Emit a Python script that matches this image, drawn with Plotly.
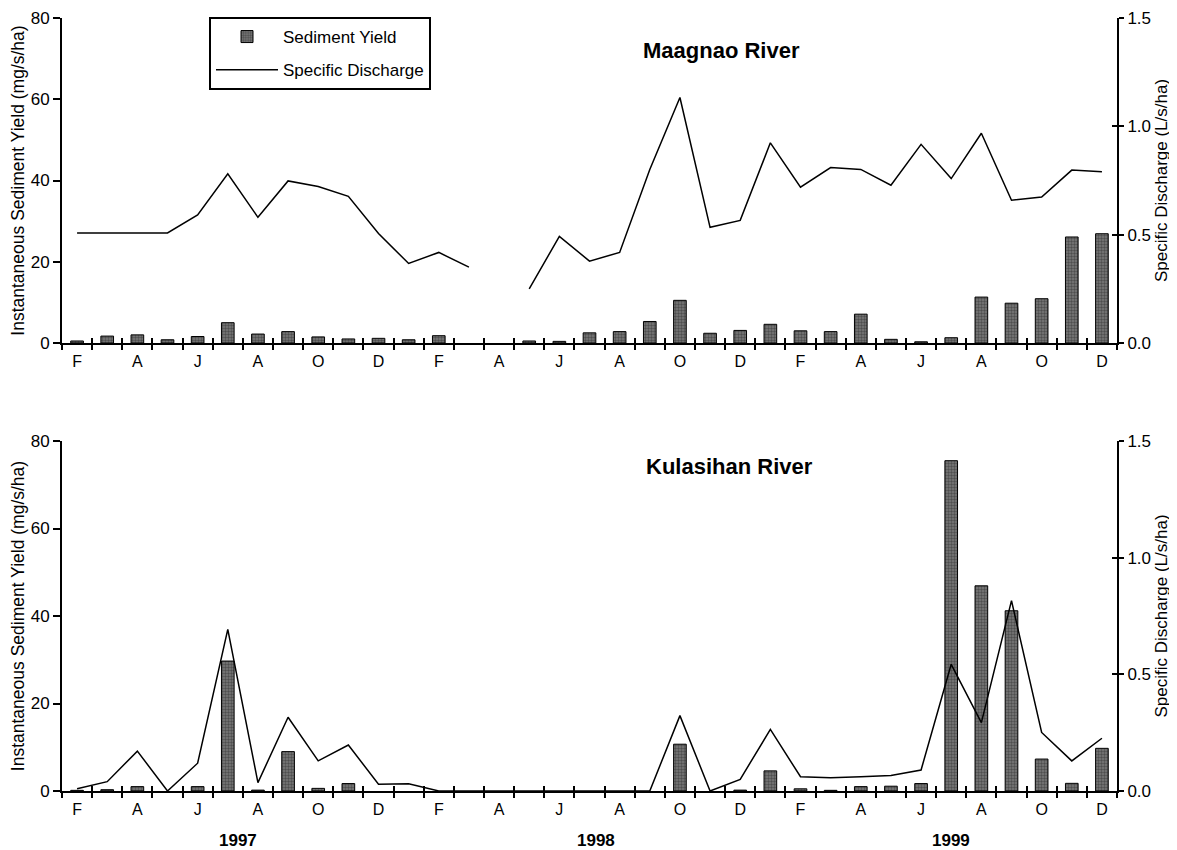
import plotly.graph_objects as go

# ---- data -------------------------------------------------------------
months = ["Feb97", "Mar97", "Apr97", "May97", "Jun97", "Jul97", "Aug97", "Sep97",
          "Oct97", "Nov97", "Dec97", "Jan98", "Feb98", "Mar98", "Apr98", "May98",
          "Jun98", "Jul98", "Aug98", "Sep98", "Oct98", "Nov98", "Dec98", "Jan99",
          "Feb99", "Mar99", "Apr99", "May99", "Jun99", "Jul99", "Aug99", "Sep99",
          "Oct99", "Nov99", "Dec99"]
month_letters = ["F", "M", "A", "M", "J", "J", "A", "S", "O", "N", "D", "J",
                 "F", "M", "A", "M", "J", "J", "A", "S", "O", "N", "D", "J",
                 "F", "M", "A", "M", "J", "J", "A", "S", "O", "N", "D"]

maag_sediment = [0.5, 1.7, 2.0, 0.8, 1.6, 5.0, 2.2, 2.8, 1.5, 1.0, 1.15, 0.8,
                 1.8, None, None, 0.5, 0.4, 2.5, 2.8, 5.3, 10.5, 2.4, 3.1, 4.6,
                 3.0, 2.8, 7.1, 0.9, 0.3, 1.3, 11.3, 9.8, 10.9, 26.1, 26.9]
maag_discharge = [0.508, 0.508, 0.508, 0.508, 0.591, 0.781, 0.580, 0.748, 0.722,
                  0.677, 0.505, 0.367, 0.418, 0.350, None, 0.250, 0.492, 0.378,
                  0.418, 0.801, 1.133, 0.534, 0.566, 0.924, 0.719, 0.810, 0.801,
                  0.728, 0.917, 0.759, 0.968, 0.659, 0.674, 0.798, 0.790]

kula_sediment = [0.15, 0.3, 1.0, None, 1.0, 29.7, 0.2, 9.0, 0.6, 1.7, None, None,
                 None, None, None, None, None, None, None, None, 10.7, None, 0.2,
                 4.6, 0.5, 0.15, 1.0, 1.1, 1.7, 75.5, 46.9, 41.2, 7.3, 1.75, 9.75]
kula_discharge = [0.01, 0.04, 0.171, 0.0, 0.119, 0.693, 0.036, 0.316, 0.129,
                  0.197, 0.029, 0.031, 0.0, 0.0, 0.0, 0.0, 0.0, 0.0, 0.0, 0.0,
                  0.323, 0.0, 0.05, 0.264, 0.061, 0.057, 0.061, 0.066, 0.09,
                  0.543, 0.293, 0.816, 0.251, 0.129, 0.226]

titles = ["Maagnao River", "Kulasihan River"]
years = ["1997", "1998", "1999"]
year_pos = [5.33, 17.2, 29.0]
left_ticks = [0, 20, 40, 60, 80]
right_ticks = [0.0, 0.5, 1.0, 1.5]

# ---- derived ------------------------------------------------------------
idx = list(range(len(months)))
label_vals = idx[::2]
label_text = month_letters[::2]
bounds = [i - 0.5 for i in range(len(months) + 1)]

FONT = "Arial, 'Liberation Sans', Helvetica, sans-serif"
OFF = 8                      # page body margin
W, H = 1177 - OFF, 850 - OFF
L_PX, R_PX = 62, 1117        # reference pixel positions of the y axes


def py(px):
    return 1 - (px - OFF) / H


def pxx(px):
    return (px - L_PX) / (R_PX - L_PX)


top_dom = [py(343), py(18)]
bot_dom = [py(791), py(441)]

bar_marker = dict(color="#5c5c5c", line=dict(color="black", width=1),
                  pattern=dict(shape=".", fgcolor="#222222", bgcolor="#7a7a7a",
                               size=3, solidity=0.5))

fig = go.Figure()

panels = [
    (maag_sediment, maag_discharge, "x", "y", "y2", True),
    (kula_sediment, kula_discharge, "x2", "y3", "y4", False),
]
for sed, dis, xa, ya, ya2, show in panels:
    fig.add_trace(go.Bar(x=idx, y=sed, xaxis=xa, yaxis=ya, width=0.42,
                         marker=bar_marker, name="Sediment Yield",
                         showlegend=show, legendgroup="sed"))
    fig.add_trace(go.Scatter(x=idx, y=dis, xaxis=xa, yaxis=ya2, mode="lines",
                             line=dict(color="black", width=1.5),
                             connectgaps=False, name="Specific Discharge",
                             showlegend=show, legendgroup="dis"))

# dummy traces so overlay tick axes are drawn
for xa, ya in [("x3", "y"), ("x4", "y3"), ("x", "y5"), ("x2", "y6")]:
    fig.add_trace(go.Scatter(x=[None], y=[None], xaxis=xa, yaxis=ya,
                             showlegend=False, hoverinfo="skip"))

xr = [-0.5, len(months) - 0.5]
axis_font = dict(family=FONT, size=16, color="black")
ytick_font = dict(family=FONT, size=17, color="black")

xbase = dict(range=xr, showgrid=False, zeroline=False, showline=True,
             linecolor="black", linewidth=2, tickmode="array",
             tickvals=label_vals, ticktext=label_text, ticks="outside",
             ticklen=0, ticklabelstandoff=3, tickfont=axis_font,
             minor=dict(tickmode="array", tickvals=bounds, ticks="outside",
                        ticklen=5, tickwidth=2, tickcolor="black"))
xover = dict(range=xr, showgrid=False, zeroline=False, showline=False,
             tickmode="array", tickvals=bounds, ticks="inside", ticklen=5,
             tickwidth=2, tickcolor="black", showticklabels=False)

ybase = dict(range=[0, 80], showgrid=False, zeroline=False, showline=True,
             linecolor="black", linewidth=2, tickmode="array",
             tickvals=left_ticks, ticks="outside", ticklen=7, tickwidth=2,
             tickcolor="black", tickfont=ytick_font,
             title=dict(text="Instantaneous Sediment Yield (mg/s/ha)",
                        font=dict(family=FONT, size=17.5, color="black"),
                        standoff=6))
yright = dict(range=[0, 1.5], showgrid=False, zeroline=False, showline=True,
              linecolor="black", linewidth=2, side="right", tickmode="array",
              tickvals=right_ticks, tickformat=".1f", ticks="outside",
              ticklen=5, tickwidth=2, tickcolor="black", tickfont=ytick_font,
              title=dict(text="Specific Discharge (L/s/ha)",
                         font=dict(family=FONT, size=17, color="black"),
                         standoff=5))
yrover = dict(range=[0, 1.5], showgrid=False, zeroline=False, showline=False,
              side="right", tickmode="array", tickvals=right_ticks,
              ticks="inside", ticklen=5, tickwidth=2, tickcolor="black",
              showticklabels=False)

fig.update_layout(
    width=W, height=H,
    margin=dict(l=L_PX - OFF, r=W - (R_PX - OFF), t=0, b=0, autoexpand=False),
    paper_bgcolor="white", plot_bgcolor="white",
    font=dict(family=FONT, size=16, color="black"),
    xaxis=dict(xbase, anchor="y"),
    xaxis2=dict(xbase, anchor="y3"),
    xaxis3=dict(xover, anchor="y", overlaying="x"),
    xaxis4=dict(xover, anchor="y3", overlaying="x2"),
    yaxis=dict(ybase, domain=top_dom, anchor="x"),
    yaxis2=dict(yright, domain=top_dom, anchor="x", overlaying="y"),
    yaxis3=dict(ybase, domain=bot_dom, anchor="x2"),
    yaxis4=dict(yright, domain=bot_dom, anchor="x2", overlaying="y3"),
    yaxis5=dict(yrover, domain=top_dom, anchor="x", overlaying="y"),
    yaxis6=dict(yrover, domain=bot_dom, anchor="x2", overlaying="y3"),
    legend=dict(x=pxx(209), y=py(17), xanchor="left", yanchor="top",
                bordercolor="black", borderwidth=2, bgcolor="white",
                font=dict(family=FONT, size=17), traceorder="grouped",
                tracegroupgap=8, itemwidth=62),
    showlegend=True,
)

# panel titles
for t, xpix, ypix in zip(titles, [721, 729], [51, 466]):
    fig.add_annotation(text="<b>%s</b>" % t, x=pxx(xpix), y=py(ypix),
                       xref="paper", yref="paper", yanchor="middle",
                       showarrow=False, font=dict(family=FONT, size=22))

# year labels
for yr, xp in zip(years, year_pos):
    fig.add_annotation(text="<b>%s</b>" % yr, x=xp, y=py(840), xref="x2",
                       yref="paper", yanchor="middle", showarrow=False,
                       font=dict(family=FONT, size=17))

fig.write_html("out.html")
